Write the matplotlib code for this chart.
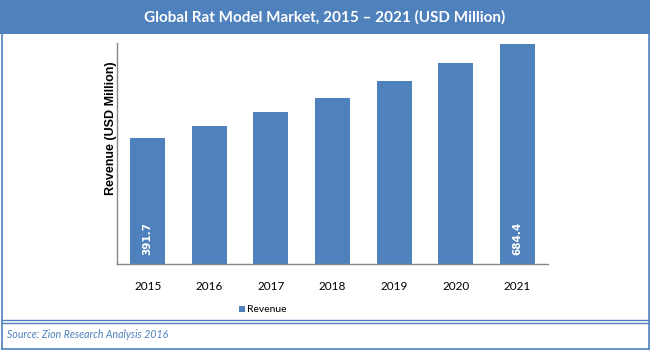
import matplotlib
matplotlib.use("Agg")
import matplotlib.pyplot as plt
from matplotlib.patches import Rectangle
from matplotlib.lines import Line2D

years = ["2015", "2016", "2017", "2018", "2019", "2020", "2021"]
revenue = [391.7, 429.0, 471.0, 516.0, 568.0, 624.0, 684.4]
shown_labels = {0: "391.7", 6: "684.4"}

title = "Global Rat Model Market, 2015 \u2013 2021 (USD Million)"
ylabel = "Revenue (USD Million)"
legend_label = "Revenue"
source = "Source: Zion Research Analysis 2016"

BLUE = "#4F81BD"
W, H = 650, 350
plt.rcParams['font.family'] = ['Lato', 'DejaVu Sans']

fig = plt.figure(figsize=(6.5, 3.5), dpi=100)

def fx(x):
    return x / W

def fy(y):
    return 1 - y / H

# title bar
fig.patches.append(Rectangle((0, fy(34)), 1, 34 / H, transform=fig.transFigure,
                             facecolor=BLUE, edgecolor='none', zorder=0))
fig.text(0.5, fy(17), title, color='white', fontsize=11, fontweight='bold',
         ha='center', va='center')

# outer frame
for (x0, y0, x1, y1) in [(1.5, 0, 1.5, 348.5), (648.5, 0, 648.5, 348.5),
                         (1.5, 348.5, 648.5, 348.5)]:
    fig.lines.append(Line2D([fx(x0), fx(x1)], [fy(y0), fy(y1)], transform=fig.transFigure,
                            color=BLUE, lw=1.2))
# double separator
for yy in (319.5, 322.5):
    fig.lines.append(Line2D([fx(1.5), fx(648.5)], [fy(yy), fy(yy)], transform=fig.transFigure,
                            color=BLUE, lw=1.0))

fig.text(fx(7), fy(334), source, color=BLUE, fontsize=7.6, style='italic',
         ha='left', va='center')

# axes
ax_left, ax_right, ax_top, ax_bottom = 117, 548, 43, 264
ax = fig.add_axes([fx(ax_left), fy(ax_bottom), (ax_right - ax_left) / W, (ax_bottom - ax_top) / H])
x = list(range(len(years)))
bars = ax.bar(x, revenue, width=0.57, color=BLUE, zorder=2)
ax.set_xlim(-0.5, len(years) - 0.5)
ax.set_ylim(0, 687)
ax.set_xticks(x)
ax.set_xticklabels(years, fontsize=8.5)
ax.set_yticks([])
ax.tick_params(axis='x', length=0, pad=12)
for s in ('top', 'right'):
    ax.spines[s].set_visible(False)
for s in ('left', 'bottom'):
    ax.spines[s].set_color('#868686')
    ax.spines[s].set_linewidth(1)

for i, lab in shown_labels.items():
    ax.text(x[i], 27, lab, rotation=90, color='white', fontsize=7.5, fontweight='bold',
            ha='center', va='bottom', family=['DejaVu Sans'])

fig.text(fx(111), fy(128), ylabel, rotation=90, fontsize=9, fontweight='bold',
         ha='center', va='center', family=['Liberation Sans', 'DejaVu Sans'])

# legend
fig.patches.append(Rectangle((fx(239), fy(312)), 6 / W, 6 / H, transform=fig.transFigure,
                             facecolor=BLUE, edgecolor='none'))
fig.text(fx(247), fy(309.5), legend_label, fontsize=7.5, ha='left', va='center')

fig.savefig("out.png", dpi=100)
